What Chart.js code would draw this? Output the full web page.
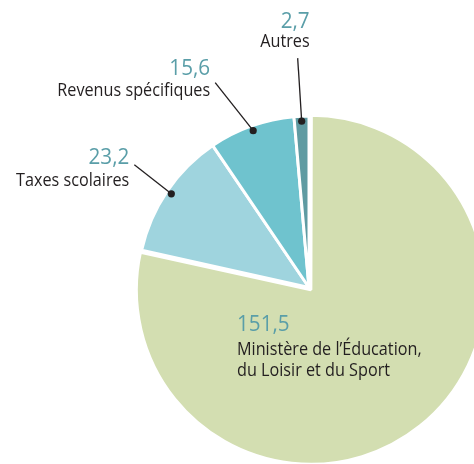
<!DOCTYPE html>
<html>
<head>
<meta charset="utf-8">
<script src="https://cdn.jsdelivr.net/npm/chart.js@4.4.1/dist/chart.umd.min.js"></script>
<style>
  html, body { margin: 0; padding: 0; background: #fff; overflow: hidden; }
  #wrap { position: relative; width: 474px; height: 464px; }
</style>
</head>
<body>
<div id="wrap"><canvas id="pie" width="474" height="464"></canvas></div>
<script>
// data (millions $)
const categories = ["Ministère de l’Éducation,|du Loisir et du Sport", "Taxes scolaires", "Revenus spécifiques", "Autres"];
const values = [151.5, 23.2, 15.6, 2.7];
const valueLabels = ["151,5", "23,2", "15,6", "2,7"];
const sliceColors = ["#d3deb1", "#9fd4de", "#6fc3ce", "#5f9ba2"];

// where each callout goes, relative to its dot (or to the pie centre when no leader)
const calloutLayout = [
  { leader: false, tx: -72, ty: 43, gap: 24, align: "left" },
  { leader: true, ex: -37, ey: -29, tx: -5, ty: -1, gap: 22, align: "right" },
  { leader: true, ex: -38, ey: -48, tx: -5, ty: -8, gap: 21, align: "right" },
  { leader: true, ex: -4, ey: -63, tx: 12, ty: -30, gap: 19, align: "right" }
];

const NUM_COLOR = "#5a9ea8";
const TXT_COLOR = "#231f20";
const FONT = "'Open Sans', 'Noto Sans', sans-serif";

// the original face is narrower than Open Sans, so squeeze it a little
function squeezedText(ctx, str, x, y, align, sx) {
  ctx.save();
  ctx.translate(x, y);
  ctx.scale(sx, 1);
  ctx.textAlign = align;
  ctx.fillText(str, 0, 0);
  ctx.restore();
}

const calloutPlugin = {
  id: "callouts",
  afterDatasetsDraw(chart) {
    const ctx = chart.ctx;
    const arcs = chart.getDatasetMeta(0).data;
    ctx.save();
    arcs.forEach((arc, i) => {
      const lay = calloutLayout[i];
      const mid = (arc.startAngle + arc.endAngle) / 2;
      let ax, ay;
      if (lay.leader) {
        const r = arc.outerRadius - 5;
        const px = arc.x + Math.cos(mid) * r;
        const py = arc.y + Math.sin(mid) * r;
        const lx = px + lay.ex, ly = py + lay.ey;
        ctx.strokeStyle = TXT_COLOR;
        ctx.lineWidth = 1.3;
        ctx.beginPath();
        ctx.moveTo(px, py);
        ctx.lineTo(lx, ly);
        ctx.stroke();
        ctx.fillStyle = TXT_COLOR;
        ctx.beginPath();
        ctx.arc(px, py, 3.6, 0, Math.PI * 2);
        ctx.fill();
        ax = lx + lay.tx;
        ay = ly + lay.ty;
      } else {
        ax = arc.x + lay.tx;
        ay = arc.y + lay.ty;
      }
      ctx.textBaseline = "alphabetic";
      ctx.fillStyle = NUM_COLOR;
      ctx.font = "22px " + FONT;
      squeezedText(ctx, valueLabels[i], ax, ay, lay.align, 0.94);
      ctx.fillStyle = TXT_COLOR;
      ctx.font = "18px " + FONT;
      categories[i].split("|").forEach((line, k) => {
        squeezedText(ctx, line, ax, ay + lay.gap + k * 21, lay.align, 0.9);
      });
    });
    ctx.restore();
  }
};

new Chart(document.getElementById("pie"), {
  type: "pie",
  data: {
    labels: categories.map((c) => c.replace("|", " ")),
    datasets: [{
      data: values,
      backgroundColor: sliceColors,
      borderColor: "#ffffff",
      borderWidth: 3,
      offset: [12, 0, 0, 0],
      clip: false
    }]
  },
  options: {
    responsive: false,
    animation: false,
    radius: 171.5,
    layout: { padding: { left: 144, top: 111, right: 0, bottom: 0 } },
    plugins: {
      legend: { display: false },
      tooltip: { enabled: false }
    }
  },
  plugins: [calloutPlugin]
});
</script>
</body>
</html>
